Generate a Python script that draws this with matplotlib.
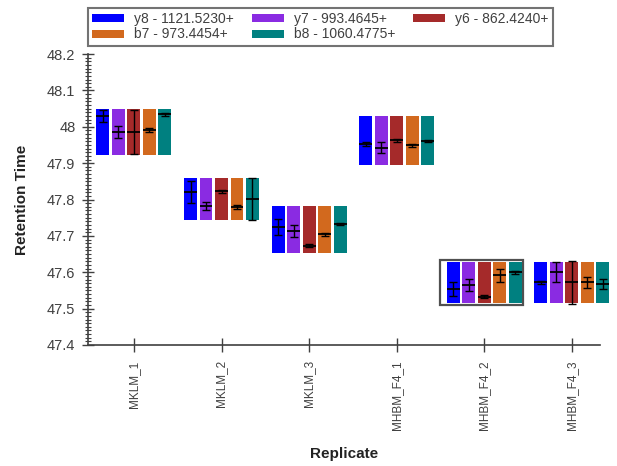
import numpy as np
import matplotlib.pyplot as plt
from matplotlib.patches import Patch, Rectangle
from matplotlib.ticker import MultipleLocator

plt.rcParams['font.family'] = ['Liberation Sans', 'DejaVu Sans']

replicates = ["MKLM_1", "MKLM_2", "MKLM_3", "MHBM_F4_1", "MHBM_F4_2", "MHBM_F4_3"]
ions = ["y8 - 1121.5230+", "y7 - 993.4645+", "y6 - 862.4240+",
        "b7 - 973.4454+", "b8 - 1060.4775+"]
colors = ["#0000FF", "#8A2BE2", "#A52A2A", "#D2691E", "#008080"]

# retention time window per replicate
range_lo = [47.922, 47.744, 47.652, 47.895, 47.515, 47.515]
range_hi = [48.048, 47.858, 47.781, 48.030, 47.629, 47.629]

# mean retention time per ion (rows) and replicate (cols)
rt_y8 = [48.030, 47.821, 47.7235, 47.952, 47.554, 47.572]
rt_y7 = [47.986, 47.783, 47.714, 47.943, 47.565, 47.600]
rt_y6 = [47.986, 47.823, 47.673, 47.963, 47.533, 47.572]
rt_b7 = [47.991, 47.780, 47.704, 47.949, 47.592, 47.572]
rt_b8 = [48.035, 47.801, 47.732, 47.961, 47.600, 47.568]

err_y8 = [0.016, 0.030, 0.022, 0.005, 0.020, 0.005]
err_y7 = [0.016, 0.011, 0.016, 0.015, 0.017, 0.027]
err_y6 = [0.060, 0.004, 0.004, 0.004, 0.004, 0.060]
err_b7 = [0.005, 0.005, 0.005, 0.005, 0.018, 0.016]
err_b8 = [0.004, 0.057, 0.003, 0.004, 0.004, 0.014]

means = [rt_y8, rt_y7, rt_y6, rt_b7, rt_b8]
errs = [err_y8, err_y7, err_y6, err_b7, err_b8]

selected = 4  # MHBM_F4_2 is highlighted

fig = plt.figure(figsize=(6.17, 4.66), dpi=100)
ax = fig.add_axes([0.1426, 0.2597, 0.8294, 0.6243])

x = np.arange(len(replicates))
step = 0.177
width = 0.148
lo = np.array(range_lo)
hi = np.array(range_hi)

# selection box
ax.add_patch(Rectangle((selected - 0.51, 47.51), 0.95, 0.124, facecolor='white',
                       edgecolor='#505050', linewidth=1.6, zorder=1, clip_on=False))

for k in range(len(ions)):
    xk = x + (k - 2) * step
    ax.bar(xk, hi - lo, bottom=lo, width=width, color=colors[k], edgecolor='none',
           zorder=2, clip_on=False)
    ax.hlines(means[k], xk - width / 2, xk + width / 2, color='black', linewidth=1.3,
              zorder=3, clip_on=False)
    ax.errorbar(xk, means[k], yerr=errs[k], fmt='none', ecolor='black', elinewidth=1,
                capsize=3, capthick=1, zorder=4, clip_on=False)

ax.set_xlim(-0.525, 5.32)
ax.set_ylim(47.4, 48.2)

ax.spines['top'].set_visible(False)
ax.spines['right'].set_visible(False)
for s in ['left', 'bottom']:
    ax.spines[s].set_color('#404040')
    ax.spines[s].set_linewidth(1.2)

ax.yaxis.set_major_locator(MultipleLocator(0.1))
ax.yaxis.set_minor_locator(MultipleLocator(0.01))
ax.set_yticks(np.arange(47.4, 48.21, 0.1))
ax.set_yticklabels(['47.4', '47.5', '47.6', '47.7', '47.8', '47.9', '48', '48.1', '48.2'])
ax.tick_params(axis='y', which='major', direction='inout', length=8, width=1,
               color='#404040', labelsize=10.5, labelcolor='#404040', pad=5)
ax.tick_params(axis='y', which='minor', direction='inout', length=5, width=0.8,
               color='#404040')

ax.set_xticks(x)
ax.set_xticklabels(replicates, rotation=90, fontsize=8.5, color='#404040', va='top')
ax.tick_params(axis='x', direction='inout', length=10, width=1, color='#404040', pad=6)

ax.set_ylabel('Retention Time', fontsize=11, fontweight='bold', color='#222222', labelpad=13)
ax.set_xlabel('Replicate', fontsize=11, fontweight='bold', color='#222222', labelpad=12)

# legend fills column-wise, so order entries to read row-wise
order = [0, 3, 1, 4, 2]
handles = [Patch(facecolor=colors[i], edgecolor='none') for i in order]
labels = [ions[i] for i in order]
leg = fig.legend(handles, labels, loc='upper left', bbox_to_anchor=(0.1426, 0.983),
                 ncol=3, fontsize=10, frameon=True, fancybox=False,
                 handlelength=2.3, handleheight=0.5, handletextpad=0.72,
                 columnspacing=1.3, borderpad=0.3, labelspacing=0.1,
                 borderaxespad=0)
leg.get_frame().set_edgecolor('#505050')
leg.get_frame().set_linewidth(1.5)
for t in leg.get_texts():
    t.set_color('#404040')

fig.savefig('out.png', dpi=100)
